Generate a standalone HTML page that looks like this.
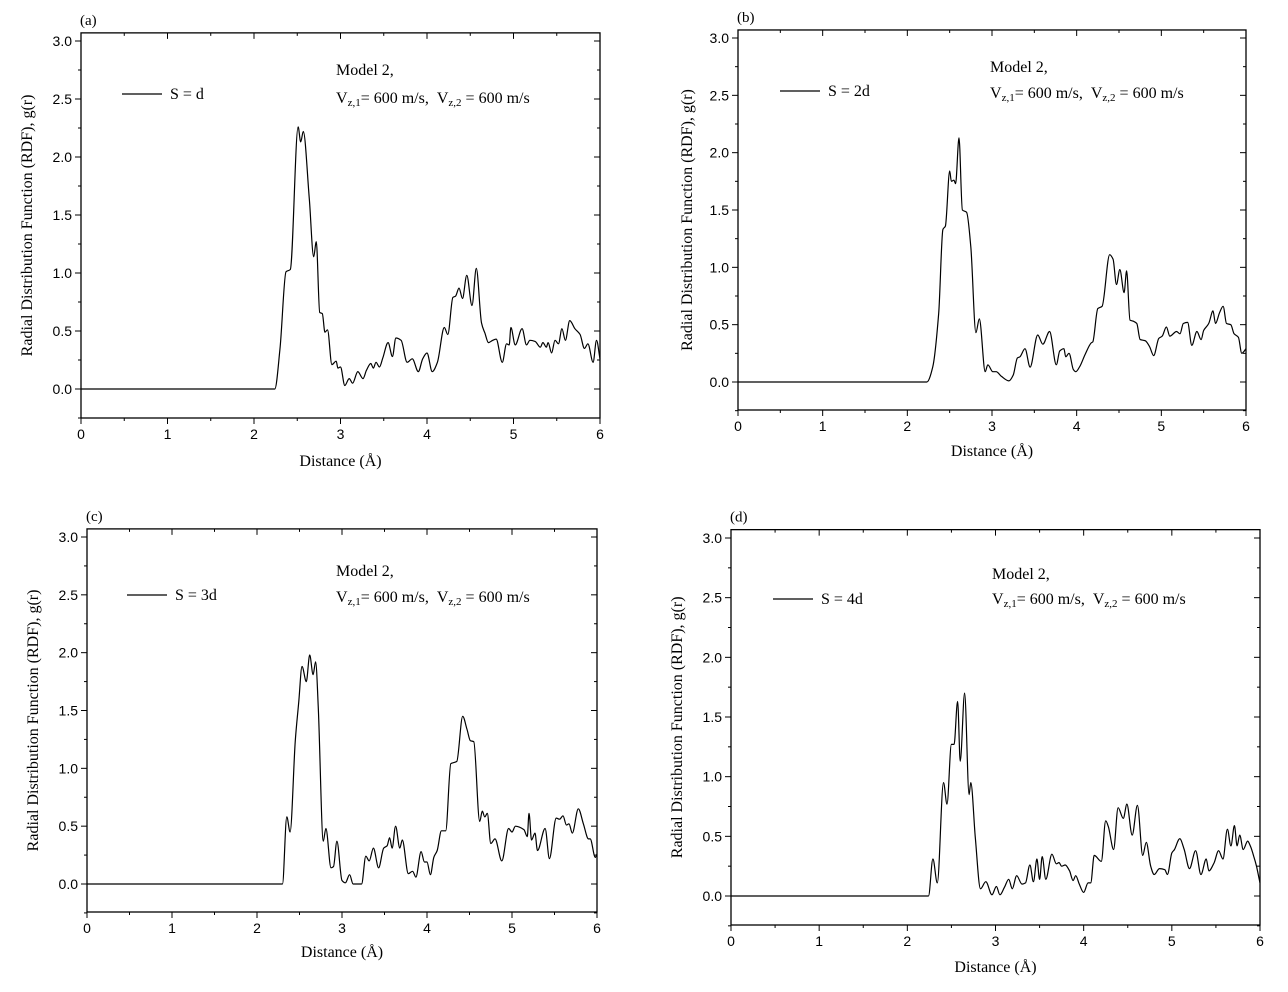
<!DOCTYPE html>
<html><head><meta charset="utf-8"><style>
body{margin:0;background:#fff;}
svg{display:block;font-family:"Liberation Serif",serif;}
</style></head><body>
<svg id="fig" width="1288" height="992" viewBox="0 0 1288 992"></svg>
<script>
const rA=[0,2.24,2.30,2.37,2.42,2.51,2.54,2.57,2.64,2.69,2.72,2.76,2.79,2.82,2.85,2.90,2.95,2.97,3.0,3.05,3.10,3.14,3.20,3.26,3.30,3.35,3.38,3.41,3.45,3.49,3.55,3.60,3.64,3.70,3.77,3.83,3.90,3.95,4.00,4.06,4.12,4.20,4.24,4.30,4.33,4.37,4.41,4.46,4.52,4.57,4.63,4.67,4.71,4.76,4.80,4.87,4.92,4.95,4.97,5.02,5.10,5.15,5.19,5.25,5.31,5.34,5.38,5.40,5.44,5.48,5.52,5.56,5.60,5.65,5.71,5.77,5.82,5.86,5.92,5.96,6.0];
const gA=[0,0,0.34,1.01,1.03,2.26,2.13,2.22,1.63,1.14,1.27,0.66,0.65,0.49,0.51,0.21,0.24,0.18,0.19,0.03,0.09,0.05,0.15,0.09,0.16,0.22,0.18,0.23,0.19,0.27,0.40,0.28,0.44,0.42,0.23,0.26,0.15,0.26,0.31,0.15,0.23,0.53,0.47,0.79,0.80,0.87,0.78,0.98,0.72,1.04,0.57,0.48,0.40,0.42,0.43,0.23,0.39,0.38,0.53,0.38,0.52,0.38,0.42,0.41,0.36,0.40,0.36,0.40,0.31,0.42,0.39,0.52,0.42,0.59,0.52,0.47,0.35,0.39,0.23,0.42,0.26];
const rB=[0,2.23,2.30,2.37,2.42,2.45,2.50,2.52,2.55,2.57,2.61,2.65,2.70,2.75,2.81,2.85,2.92,2.95,3.01,3.05,3.11,3.20,3.25,3.30,3.33,3.39,3.45,3.54,3.60,3.68,3.76,3.80,3.85,3.87,3.91,3.96,3.99,4.04,4.10,4.17,4.19,4.25,4.30,4.39,4.43,4.47,4.51,4.56,4.59,4.63,4.67,4.71,4.75,4.81,4.86,4.91,4.97,5.01,5.06,5.10,5.18,5.22,5.26,5.31,5.36,5.42,5.47,5.50,5.56,5.61,5.64,5.69,5.73,5.77,5.82,5.86,5.91,5.95,6.0];
const gB=[0,0,0.13,0.60,1.33,1.36,1.84,1.75,1.76,1.73,2.13,1.50,1.48,1.18,0.43,0.55,0.09,0.15,0.09,0.09,0.05,0.01,0.06,0.21,0.22,0.29,0.13,0.41,0.33,0.44,0.15,0.27,0.29,0.22,0.25,0.11,0.09,0.14,0.24,0.34,0.35,0.64,0.66,1.11,1.07,0.85,0.98,0.78,0.97,0.54,0.53,0.51,0.37,0.36,0.31,0.23,0.38,0.40,0.48,0.40,0.44,0.42,0.51,0.52,0.32,0.44,0.37,0.45,0.51,0.62,0.51,0.61,0.66,0.51,0.50,0.42,0.39,0.25,0.29];
const rC=[0,2.30,2.35,2.39,2.45,2.49,2.53,2.58,2.62,2.66,2.69,2.72,2.78,2.81,2.87,2.90,2.94,3.00,3.04,3.09,3.13,3.23,3.28,3.32,3.37,3.43,3.49,3.53,3.56,3.59,3.63,3.68,3.71,3.78,3.83,3.87,3.93,3.97,4.00,4.04,4.08,4.12,4.17,4.22,4.28,4.35,4.42,4.47,4.51,4.55,4.62,4.65,4.68,4.71,4.75,4.80,4.88,4.96,5.00,5.04,5.14,5.18,5.20,5.23,5.27,5.30,5.39,5.44,5.52,5.56,5.60,5.64,5.67,5.71,5.78,5.84,5.90,5.92,5.98,6.0];
const gC=[0,0,0.58,0.45,1.24,1.56,1.88,1.75,1.98,1.81,1.92,1.54,0.37,0.48,0.14,0.15,0.37,0.03,0.01,0.08,0,0,0.24,0.20,0.31,0.14,0.31,0.33,0.40,0.31,0.50,0.31,0.38,0.09,0.11,0.06,0.28,0.19,0.19,0.08,0.23,0.29,0.46,0.46,1.04,1.06,1.45,1.34,1.24,1.23,0.54,0.63,0.58,0.61,0.35,0.39,0.20,0.48,0.45,0.50,0.47,0.41,0.61,0.38,0.44,0.29,0.48,0.22,0.57,0.56,0.59,0.51,0.52,0.44,0.65,0.52,0.39,0.39,0.23,0.26];
const rD=[0,2.24,2.29,2.34,2.41,2.45,2.50,2.53,2.57,2.60,2.65,2.70,2.72,2.77,2.83,2.89,2.96,3.01,3.05,3.10,3.15,3.19,3.24,3.30,3.34,3.39,3.43,3.47,3.50,3.53,3.57,3.64,3.69,3.72,3.75,3.79,3.84,3.88,3.91,3.95,4.00,4.05,4.08,4.12,4.20,4.25,4.28,4.34,4.39,4.45,4.49,4.55,4.61,4.67,4.71,4.76,4.80,4.86,4.92,4.95,5.00,5.03,5.09,5.14,5.20,5.27,5.33,5.39,5.42,5.48,5.53,5.58,5.63,5.67,5.71,5.74,5.77,5.81,5.86,5.89,5.93,5.96,6.0];
const gD=[0,0,0.31,0.11,0.95,0.77,1.27,1.27,1.63,1.13,1.70,0.85,0.95,0.50,0.06,0.12,0.01,0.08,0.01,0.07,0.14,0.06,0.17,0.10,0.11,0.26,0.12,0.31,0.14,0.33,0.14,0.35,0.27,0.28,0.25,0.26,0.21,0.13,0.17,0.10,0.03,0.11,0.11,0.34,0.29,0.63,0.58,0.39,0.74,0.65,0.77,0.51,0.76,0.34,0.45,0.25,0.18,0.23,0.22,0.18,0.36,0.39,0.48,0.39,0.23,0.38,0.18,0.31,0.21,0.28,0.38,0.31,0.56,0.42,0.59,0.42,0.51,0.39,0.46,0.42,0.33,0.25,0.11];
const xTicks=[0,1,2,3,4,5,6];
const yTicks=[0.0,0.5,1.0,1.5,2.0,2.5,3.0];

const panels=[
 {id:'a',r:rA,g:gA,x0:81,x6:600,y0:389,y3:41,bot:418,lbl:'S = d',lx:122,ly:94,mx:336,my:75,vy:103,ytx:27,xty:466},
 {id:'b',r:rB,g:gB,x0:738,x6:1246,y0:382,y3:38,bot:410,lbl:'S = 2d',lx:780,ly:91,mx:990,my:72,vy:98,ytx:687,xty:456},
 {id:'c',r:rC,g:gC,x0:87,x6:597,y0:884,y3:537,bot:912,lbl:'S = 3d',lx:127,ly:595,mx:336,my:576,vy:602,ytx:33,xty:957},
 {id:'d',r:rD,g:gD,x0:731,x6:1260,y0:896,y3:538,bot:925,lbl:'S = 4d',lx:773,ly:599,mx:992,my:579,vy:604,ytx:677,xty:972}
];
const NS='http://www.w3.org/2000/svg';
const svg=document.getElementById('fig');
function mk(tag,attrs,parent,text){const e=document.createElementNS(NS,tag);for(const k in attrs)e.setAttribute(k,attrs[k]);if(text!==undefined)e.textContent=text;(parent||svg).appendChild(e);return e;}
panels.forEach(p=>{
 const sx=v=>p.x0+(p.x6-p.x0)*v/6;
 const sy=v=>p.y0-(p.y0-p.y3)*v/3;
 const top=sy(3.07);
 const g=mk('g',{});
 
 
 const fr=mk('rect',{x:p.x0,y:top,width:p.x6-p.x0,height:p.bot-top,fill:'none',stroke:'#000','stroke-width':1.3},g);
 
 
 for(let i=0;i<=12;i++){const v=i*0.5,x=sx(v),L=i%2?3:6;
  mk('line',{x1:x,y1:p.bot,x2:x,y2:p.bot+L,stroke:'#000','stroke-width':1},g);
  mk('line',{x1:x,y1:top,x2:x,y2:top+L,stroke:'#000','stroke-width':1},g);}
 for(let i=-1;i<=12;i++){const v=i*0.25,y=sy(v),L=(i%2===0)?6:3;
  mk('line',{x1:p.x0,y1:y,x2:p.x0-L,y2:y,stroke:'#000','stroke-width':1},g);
  mk('line',{x1:p.x6,y1:y,x2:p.x6-L,y2:y,stroke:'#000','stroke-width':1},g);}
 xTicks.forEach(v=>{const t=mk('text',{x:sx(v),y:p.bot+21,'font-size':14,'text-anchor':'middle','font-family':'Liberation Sans, sans-serif'},g,String(v));
  
  });
 yTicks.forEach(v=>{const t=mk('text',{x:p.x0-9,y:sy(v)+5,'font-size':14,'text-anchor':'end','font-family':'Liberation Sans, sans-serif'},g,v.toFixed(1));
  
  });
 const pl=mk('text',{x:p.x0-1,y:top-8,'font-size':15},g,'('+p.id+')');
 
 
 const xt=mk('text',{x:(p.x0+p.x6)/2,y:p.xty,'font-size':16,'text-anchor':'middle'},g,'Distance (Å)');
 
 
 const cy=(top+p.bot)/2;
 const yt=mk('text',{x:p.ytx,y:cy,'font-size':16,'text-anchor':'middle',transform:`rotate(-90 ${p.ytx} ${cy})`,dy:5},g,'Radial Distribution Function (RDF), g(r)');
 
 
 const lg=mk('g',{},g);
 
 
 mk('line',{x1:p.lx,y1:p.ly,x2:p.lx+40,y2:p.ly,stroke:'#000','stroke-width':1.2},lg);
 mk('text',{x:p.lx+48,y:p.ly+5,'font-size':16},lg,p.lbl);
 const an=mk('g',{},g);
 
 
 mk('text',{x:p.mx,y:p.my,'font-size':16},an,'Model 2,');
 const vt=mk('text',{x:p.mx,y:p.vy,'font-size':16},an);
 vt.innerHTML='V<tspan font-size="11" dy="3">z,1</tspan><tspan dy="-3">= 600 m/s,\u00a0\u00a0V</tspan><tspan font-size="11" dy="3">z,2</tspan><tspan dy="-3"> = 600 m/s</tspan>';
 // curve: monotone cubic (Fritsch-Carlson) in x
 const X=p.r.map(sx),Y=p.g.map(sy),n=X.length;
 const s=[];for(let i=0;i<n-1;i++)s.push((Y[i+1]-Y[i])/(X[i+1]-X[i]));
 const m=[];for(let i=0;i<n;i++){
  if(i===0)m.push(s[0]);else if(i===n-1)m.push(s[n-2]);
  else{const a=s[i-1],b=s[i];m.push(a*b<=0?0:2/(1/a+1/b));}}
 let d='M'+X[0].toFixed(1)+','+Y[0].toFixed(1);
 for(let i=0;i<n-1;i++){const h=(X[i+1]-X[i])/3;
  d+=`C${(X[i]+h).toFixed(1)},${(Y[i]+m[i]*h).toFixed(1)} ${(X[i+1]-h).toFixed(1)},${(Y[i+1]-m[i+1]*h).toFixed(1)} ${X[i+1].toFixed(1)},${Y[i+1].toFixed(1)}`;}
 const cv=mk('path',{d:d,fill:'none',stroke:'#000','stroke-width':1.2},g);
 
 
});
</script>
</body></html>
